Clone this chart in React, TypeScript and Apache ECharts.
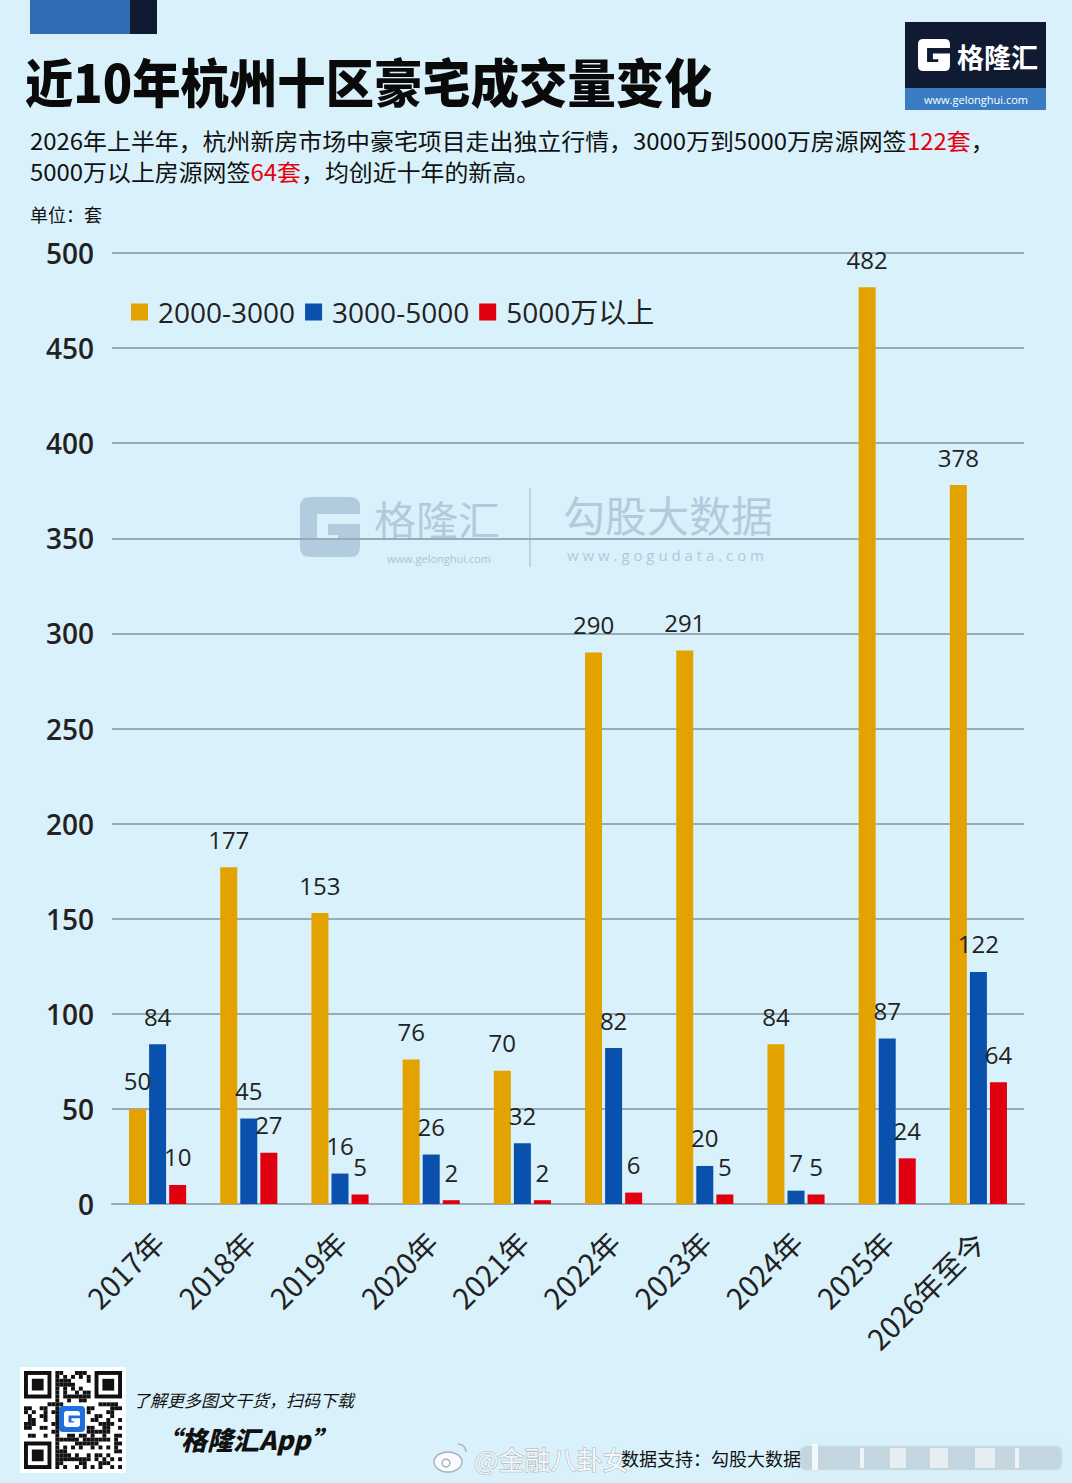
import React, { useEffect, useRef } from "react";
import * as echarts from "echarts";

// 年份分类
const years = ["2017年", "2018年", "2019年", "2020年", "2021年", "2022年", "2023年", "2024年", "2025年", "2026年至今"];
// 各总价段成交套数
const seriesNames = ["2000-3000", "3000-5000", "5000万以上"];
const tier2000to3000 = [50, 177, 153, 76, 70, 290, 291, 84, 482, 378];
const tier3000to5000 = [84, 45, 16, 26, 32, 82, 20, 7, 87, 122];
const tierAbove5000 = [10, 27, 5, 2, 2, 6, 5, 5, 24, 64];
// 纵轴刻度
const yMin = 0;
const yMax = 500;
const yStep = 50;

const COLORS = ["#e2a200", "#0a50ad", "#e0000f"];
const BG = "#d9f1fa";
const CJK = "'Noto Sans CJK SC', sans-serif";
const NUM = "'Open Sans', 'Noto Sans CJK SC', sans-serif";

const G_PATH =
  "M10 0 H50 Q60 0 60 10 V17 H17 V43 H38 V38 H28 V27 H60 V50 Q60 60 50 60 H10 Q0 60 0 50 V10 Q0 0 10 0 Z";

let registered = false;
function registerLogo() {
  if (registered) return;
  echarts.graphic.registerShape("glogo", echarts.graphic.extendPath(G_PATH, {}) as any);
  registered = true;
}

// 二维码装饰图案
function qrModules(x0: number, y0: number, size: number, n: number) {
  const m = size / n;
  const out: any[] = [];
  const inFinder = (r: number, c: number) =>
    (r < 8 && c < 8) || (r < 8 && c >= n - 8) || (r >= n - 8 && c < 8);
  const finder = (r0: number, c0: number) => {
    out.push({ type: "rect", shape: { x: x0 + c0 * m, y: y0 + r0 * m, width: 7 * m, height: 7 * m }, style: { fill: "#111" } });
    out.push({ type: "rect", shape: { x: x0 + (c0 + 1) * m, y: y0 + (r0 + 1) * m, width: 5 * m, height: 5 * m }, style: { fill: "#fff" } });
    out.push({ type: "rect", shape: { x: x0 + (c0 + 2) * m, y: y0 + (r0 + 2) * m, width: 3 * m, height: 3 * m }, style: { fill: "#111" } });
  };
  for (let r = 0; r < n; r++) {
    for (let c = 0; c < n; c++) {
      if (inFinder(r, c)) continue;
      if (r >= 9 && r <= 15 && c >= 9 && c <= 15) continue;
      const v = (r * 37 + c * 23 + r * c * 11 + (r ^ c) * 5) % 13;
      if (v < 6) {
        out.push({ type: "rect", shape: { x: x0 + c * m, y: y0 + r * m, width: m, height: m }, style: { fill: "#111" } });
      }
    }
  }
  finder(0, 0);
  finder(0, n - 7);
  finder(n - 7, 0);
  return out;
}

export default function App() {
  const ref = useRef<HTMLDivElement>(null);

  useEffect(() => {
    document.body.style.margin = "0";
    registerLogo();
    const chart = echarts.init(ref.current!, null, { renderer: "svg" });

    const labelStyle = {
      show: true,
      position: "top" as const,
      distance: 16,
      fontSize: 24,
      fontFamily: NUM,
      color: "#222",
    };

    const mkSeries = (name: string, data: number[], color: string) => ({
      name,
      type: "bar",
      data,
      barWidth: 17,
      barGap: "18%",
      itemStyle: { color },
      label: labelStyle,
    });

    const watermarkColor = "#aac4d8";

    const option: any = {
      animation: false,
      backgroundColor: BG,
      grid: { left: 112, right: 48, top: 253, bottom: 279, containLabel: false },
      legend: {
        data: seriesNames,
        left: 126,
        top: 293,
        icon: "rect",
        itemWidth: 17,
        itemHeight: 17,
        itemGap: 10,
        textStyle: { fontSize: 28, fontFamily: NUM, color: "#222", padding: [0, 0, 0, 5] },
      },
      xAxis: {
        type: "category",
        data: years,
        axisTick: { show: false },
        axisLine: { lineStyle: { color: "#9aabb5", width: 2 } },
        axisLabel: {
          rotate: 45,
          interval: 0,
          margin: 32,
          fontSize: 29,
          fontFamily: CJK,
          color: "#222",
        },
      },
      yAxis: {
        type: "value",
        min: yMin,
        max: yMax,
        interval: yStep,
        axisLine: { show: false },
        axisTick: { show: false },
        splitLine: { lineStyle: { color: "#9aabb5", width: 2 } },
        axisLabel: { fontSize: 28, fontWeight: 600, fontFamily: NUM, color: "#222", margin: 18 },
      },
      series: [
        mkSeries(seriesNames[0], tier2000to3000, COLORS[0]),
        mkSeries(seriesNames[1], tier3000to5000, COLORS[1]),
        mkSeries(seriesNames[2], tierAbove5000, COLORS[2]),
      ],
      graphic: [
        // 顶部色块
        { type: "rect", shape: { x: 30, y: 0, width: 100, height: 34 }, style: { fill: "#2f6cb3" } },
        { type: "rect", shape: { x: 130, y: 0, width: 27, height: 34 }, style: { fill: "#0f1a33" } },
        // 标题
        {
          type: "text",
          x: 25,
          y: 80,
          scaleX: 0.93,
          style: {
            text: "近10年杭州十区豪宅成交量变化",
            fontSize: 52,
            fontWeight: 900,
            fontFamily: CJK,
            fill: "#0a0a0a",
            verticalAlign: "middle",
          },
        },
        // 右上角标志
        {
          type: "group",
          children: [
            { type: "rect", shape: { x: 905, y: 22, width: 141, height: 66 }, style: { fill: "#111a33" } },
            { type: "rect", shape: { x: 905, y: 88, width: 141, height: 22 }, style: { fill: "#3a7cc4" } },
            { type: "glogo", x: 918, y: 39, scaleX: 32 / 60, scaleY: 32 / 60, style: { fill: "#fff" } },
            {
              type: "text",
              x: 957,
              y: 56,
              style: { text: "格隆汇", fontSize: 27, fontWeight: 700, fontFamily: CJK, fill: "#fff", verticalAlign: "middle" },
            },
            {
              type: "text",
              x: 976,
              y: 99,
              style: { text: "www.gelonghui.com", fontSize: 11, fontFamily: NUM, fill: "#fff", align: "center", verticalAlign: "middle" },
            },
          ],
        },
        // 导语
        {
          type: "text",
          x: 30,
          y: 140,
          scaleX: 1.04,
          style: {
            text: "2026年上半年，杭州新房市场中豪宅项目走出独立行情，3000万到5000万房源网签{r|122套}，",
            fontSize: 23,
            fontFamily: CJK,
            fill: "#111",
            verticalAlign: "middle",
            rich: { r: { fill: "#e8000f", fontSize: 23, fontFamily: CJK } },
          },
        },
        {
          type: "text",
          x: 30,
          y: 171,
          scaleX: 1.04,
          style: {
            text: "5000万以上房源网签{r|64套}，均创近十年的新高。",
            fontSize: 23,
            fontFamily: CJK,
            fill: "#111",
            verticalAlign: "middle",
            rich: { r: { fill: "#e8000f", fontSize: 23, fontFamily: CJK } },
          },
        },
        {
          type: "text",
          x: 30,
          y: 214,
          style: { text: "单位：套", fontSize: 18, fontFamily: CJK, fill: "#111", verticalAlign: "middle" },
        },
        // 水印
        {
          type: "group",
          z: -1,
          children: [
            { type: "glogo", x: 300, y: 497, scaleX: 1, scaleY: 1, style: { fill: watermarkColor, opacity: 0.85 } },
            {
              type: "text",
              x: 374,
              y: 517,
              scaleX: 1.05,
              style: { text: "格隆汇", fontSize: 40, fontFamily: CJK, fill: watermarkColor, opacity: 0.85, verticalAlign: "middle" },
            },
            {
              type: "text",
              x: 439,
              y: 558,
              style: { text: "www.gelonghui.com", fontSize: 11, fontFamily: NUM, fill: watermarkColor, align: "center", verticalAlign: "middle" },
            },
            { type: "line", shape: { x1: 530, y1: 488, x2: 530, y2: 567 }, style: { stroke: watermarkColor, lineWidth: 1.5, opacity: 0.85 } },
            {
              type: "text",
              x: 563,
              y: 513,
              style: { text: "勾股大数据", fontSize: 42, fontFamily: CJK, fill: watermarkColor, opacity: 0.85, verticalAlign: "middle" },
            },
            {
              type: "text",
              x: 567,
              y: 555,
              style: {
                text: "w w w . g o g u d a t a . c o m",
                fontSize: 15,
                fontFamily: NUM,
                fill: watermarkColor,
                opacity: 0.9,
                verticalAlign: "middle",
              },
            },
          ],
        },
        // 底部二维码
        {
          type: "group",
          children: [
            { type: "rect", shape: { x: 20, y: 1367, width: 106, height: 106 }, style: { fill: "#fff" } },
            ...qrModules(24, 1371, 98, 25),
            { type: "rect", shape: { x: 59, y: 1406, width: 26, height: 26, r: 4 }, style: { fill: "#1e6fe0" } },
            { type: "glogo", x: 64, y: 1411, scaleX: 16 / 60, scaleY: 16 / 60, style: { fill: "#fff" } },
          ],
        },
        {
          type: "text",
          x: 133,
          y: 1399,
          style: { text: "了解更多图文干货，扫码下载", fontSize: 17, fontStyle: "italic", fontFamily: CJK, fill: "#111", verticalAlign: "middle" },
        },
        {
          type: "text",
          x: 155,
          y: 1438,
          style: { text: "“格隆汇App”", fontSize: 26, fontStyle: "italic", fontWeight: 900, fontFamily: CJK, fill: "#111", verticalAlign: "middle" },
        },
        // 微博水印
        {
          type: "group",
          children: [
            { type: "ellipse", shape: { cx: 448, cy: 1462, rx: 14, ry: 10 }, style: { fill: "rgba(255,255,255,0.8)", stroke: "#aab4bb", lineWidth: 1.5 } },
            { type: "circle", shape: { cx: 446, cy: 1463, r: 4 }, style: { fill: "none", stroke: "#aab4bb", lineWidth: 1.5 } },
            { type: "arc", shape: { cx: 458, cy: 1452, r: 8, startAngle: -Math.PI / 2, endAngle: 0 }, style: { stroke: "#aab4bb", lineWidth: 1.5, fill: "none" } },
            {
              type: "text",
              x: 474,
              y: 1458,
              style: { text: "@金融八卦女", fontSize: 26, fontFamily: CJK, fill: "rgba(255,255,255,0.85)", stroke: "#a9b3ba", lineWidth: 1, verticalAlign: "middle" },
            },
          ],
        },
        {
          type: "text",
          x: 621,
          y: 1458,
          style: { text: "数据支持：勾股大数据", fontSize: 18, fontFamily: CJK, fill: "#111", verticalAlign: "middle" },
        },
        {
          type: "group",
          children: [
            { type: "rect", shape: { x: 800, y: 1446, width: 262, height: 24, r: 6 }, style: { fill: "rgba(170,180,188,0.35)", shadowBlur: 6, shadowColor: "rgba(170,180,188,0.5)" } },
            { type: "rect", shape: { x: 812, y: 1444, width: 6, height: 26 }, style: { fill: "rgba(255,255,255,0.8)" } },
            { type: "rect", shape: { x: 860, y: 1448, width: 4, height: 20 }, style: { fill: "rgba(255,255,255,0.7)" } },
            { type: "rect", shape: { x: 890, y: 1448, width: 16, height: 20 }, style: { fill: "rgba(255,255,255,0.6)" } },
            { type: "rect", shape: { x: 930, y: 1448, width: 18, height: 20 }, style: { fill: "rgba(255,255,255,0.6)" } },
            { type: "rect", shape: { x: 975, y: 1448, width: 20, height: 20 }, style: { fill: "rgba(255,255,255,0.6)" } },
            { type: "rect", shape: { x: 1015, y: 1448, width: 4, height: 20 }, style: { fill: "rgba(255,255,255,0.7)" } },
          ],
        },
      ],
    };

    chart.setOption(option);
    return () => chart.dispose();
  }, []);

  return <div ref={ref} style={{ width: 1072, height: 1483 }} />;
}
